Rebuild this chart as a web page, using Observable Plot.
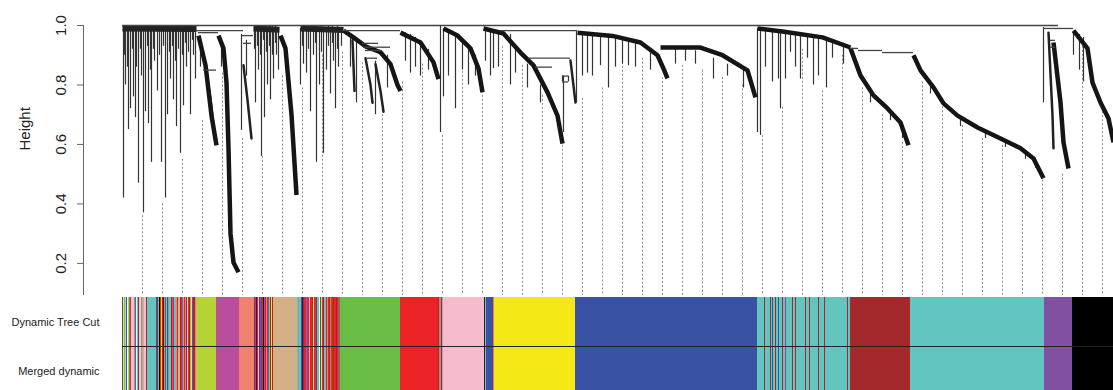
<!DOCTYPE html>
<html><head><meta charset="utf-8">
<script src="https://cdn.jsdelivr.net/npm/d3@7"></script>
<script src="https://cdn.jsdelivr.net/npm/@observablehq/plot@0.6"></script>
<style>
body{margin:0;background:#fff;}
#chart svg{display:block;}
</style></head><body><div id="chart"></div>
<script>
// ---------- DATA (leaf order position, height) ----------
const yTicks = [0.2, 0.4, 0.6, 0.8, 1.0];
const rowLabels = ["Dynamic Tree Cut", "Merged dynamic"];

// horizontal merge links [x1, x2, height]
const mergeLinks = [
  [0,936,1.0],[921,951,0.99],[74,121,0.983],[76,96,0.976],[119,131,0.966],[121,129,0.94],[81,94,0.85],
  [221,278,0.983],[240,256,0.94],[241,268,0.927],[243,260,0.916],[245,255,0.89],
  [378,455,0.983],[406,448,0.89],[413,430,0.86],[440,446,0.83],[440,446,0.81],
  [728,736,0.923],[736,760,0.916],[760,791,0.909],[928,933,0.95],[928,933,0.927]
];

// single branches [x, top height, bottom height]
const branches = [
  [1,1.0,0.42],[2,1.0,0.90],[3,1.0,0.80],[5,1.0,0.86],[6,1.0,0.65],[8,1.0,0.72],[10,1.0,0.92],[11,1.0,0.76],[13,1.0,0.69],[14,0.99,0.86],
  [16,1.0,0.47],[18,1.0,0.92],[19,0.99,0.83],[21,1.0,0.37],[23,1.0,0.71],[25,1.0,0.93],[26,1.0,0.67],[28,1.0,0.85],[29,1.0,0.54],[31,1.0,0.92],
  [32,0.99,0.88],[35,0.99,0.78],[37,1.0,0.90],[39,1.0,0.54],[41,1.0,0.93],[43,1.0,0.42],[45,0.99,0.70],[47,1.0,0.91],[48,0.99,0.82],[50,1.0,0.93],
  [51,1.0,0.75],[53,1.0,0.88],[54,1.0,0.66],[56,1.0,0.92],[58,1.0,0.57],[60,1.0,0.90],[61,0.99,0.73],[63,1.0,0.94],[64,0.99,0.86],[66,1.0,0.91],
  [68,1.0,0.70],[70,1.0,0.95],[71,0.99,0.90],[73,0.99,0.82],
  [78,0.95,0.86],[85,0.83,0.78],[99,0.94,0.86],[119,0.97,0.647],[124,0.95,0.83],
  [132,1.0,0.92],[133,1.0,0.74],[135,1.0,0.93],[136,1.0,0.85],[138,1.0,0.90],[139,1.0,0.56],[141,1.0,0.95],[142,0.99,0.69],[144,1.0,0.91],
  [145,0.99,0.80],[147,1.0,0.93],[148,1.0,0.75],[150,1.0,0.90],[151,0.99,0.82],[153,1.0,0.94],[154,0.99,0.90],[156,0.99,0.85],
  [178,0.99,0.80],[180,1.0,0.93],[181,0.99,0.87],[184,0.99,0.84],[186,1.0,0.92],[188,0.99,0.71],[191,0.99,0.90],[193,1.0,0.94],[194,0.99,0.54],
  [197,0.99,0.80],[199,1.0,0.91],[201,0.99,0.57],[204,0.99,0.85],[206,1.0,0.93],[208,0.99,0.77],[210,1.0,0.94],[211,0.99,0.88],[213,0.99,0.72],
  [215,1.0,0.92],[216,0.99,0.86],[219,0.99,0.93],
  [228,0.96,0.86],[234,0.95,0.74],[253,0.88,0.70],[265,0.90,0.79],
  [283,0.975,0.88],[288,0.97,0.84],[293,0.96,0.86],[298,0.95,0.83],[306,0.92,0.85],
  [318,1.0,0.64],[321,0.99,0.76],[326,0.98,0.83],[333,0.97,0.72],[340,0.95,0.85],[346,0.93,0.80],[353,0.9,0.83],
  [363,0.99,0.88],[368,0.99,0.83],[371,0.985,0.855],[376,0.98,0.86],[388,0.97,0.80],[393,0.93,0.84],[405,0.87,0.79],[418,0.80,0.74],
  [440,0.83,0.81],[446,0.83,0.81],[441,0.83,0.64],
  [454,0.98,0.74],[460,0.976,0.83],[465,0.975,0.84],[470,0.97,0.83],[478,0.97,0.865],[486,0.96,0.79],[493,0.96,0.86],[500,0.955,0.87],
  [506,0.95,0.865],[513,0.945,0.86],[528,0.92,0.85],[553,0.92,0.87],[563,0.92,0.88],[573,0.915,0.87],[591,0.89,0.82],[605,0.87,0.83],[621,0.86,0.79],
  [635,0.99,0.64],[638,0.99,0.63],[643,0.985,0.86],[650,0.98,0.81],[656,0.98,0.82],[658,0.98,0.72],[663,0.975,0.82],[668,0.975,0.91],
  [673,0.97,0.86],[678,0.97,0.82],[685,0.965,0.89],[691,0.96,0.80],[696,0.96,0.83],[704,0.955,0.79],[710,0.95,0.89],[721,0.94,0.87],
  [748,0.78,0.74],[768,0.715,0.68],[780,0.66,0.62],
  [808,0.80,0.77],[838,0.69,0.66],[863,0.645,0.62],[883,0.615,0.59],[903,0.58,0.55],[913,0.545,0.52],
  [921,0.993,0.74],[951,0.98,0.90],[957,0.97,0.85],[961,0.96,0.81]
];

// dense cluster tops [[x, h], ...]
const clusterTops = [
  [[0,0.99],[74,0.988]],
  [[131,0.99],[157,0.986]],
  [[178,0.99],[221,0.985]]
];

// module cascades (lower edge of each module's branch run) [[x, h], ...]
const cascades = [
  [[76,0.966],[83,0.866],[89,0.697],[94,0.597]],
  [[96,0.966],[101,0.923],[104,0.808],[106,0.587],[108,0.30],[111,0.203],[116,0.17]],
  [[158,0.966],[163,0.923],[169,0.70],[174,0.43]],
  [[221,0.983],[231,0.96],[243,0.93],[258,0.91],[268,0.87],[275,0.80],[278,0.78]],
  [[278,0.976],[298,0.943],[311,0.876],[316,0.82]],
  [[321,0.99],[335,0.966],[348,0.923],[356,0.855],[360,0.775]],
  [[361,0.99],[381,0.973],[398,0.909],[411,0.866],[425,0.775],[435,0.697],[440,0.603]],
  [[455,0.976],[490,0.965],[518,0.943],[535,0.90],[541,0.855],[545,0.822]],
  [[538,0.926],[578,0.926],[600,0.90],[625,0.849],[633,0.758]],
  [[635,0.99],[660,0.98],[700,0.96],[728,0.926]],
  [[728,0.923],[738,0.832],[751,0.765],[765,0.721],[778,0.674],[786,0.597]],
  [[791,0.90],[798,0.849],[811,0.792],[821,0.738],[835,0.697],[855,0.657],[878,0.62],[898,0.587],[911,0.553],[921,0.486]],
  [[931,0.943],[938,0.741],[941,0.607],[946,0.519]],
  [[951,0.983],[965,0.923],[970,0.808],[978,0.741],[986,0.687],[991,0.607]]
];
const subCascades = [
  [[83,0.866],[88,0.75],[93,0.607]],
  [[121,0.866],[125,0.75],[129,0.62]],
  [[243,0.89],[248,0.80],[250,0.74]],
  [[253,0.87],[258,0.78],[261,0.71]],
  [[230,0.95],[232,0.78]],
  [[448,0.882],[453,0.741]],
  [[926,0.976],[930,0.697],[931,0.587]]
];

// guide lines [x, top height]
const guides = [
  [20,0.36],[40,0.40],[60,0.55],[80,0.68],[100,0.84],[120,0.62],[140,0.56],[160,0.83],[180,0.79],[200,0.90],
  [220,0.91],[240,0.875],[260,0.70],[280,0.81],[300,0.87],[320,0.63],[340,0.90],[360,0.765],[380,0.93],[400,0.866],
  [420,0.765],[440,0.597],[460,0.755],[480,0.79],[500,0.89],[520,0.89],[540,0.825],[560,0.866],[580,0.85],[600,0.825],
  [620,0.80],[640,0.63],[660,0.725],[680,0.92],[700,0.78],[720,0.90],[740,0.79],[760,0.70],[780,0.607],[800,0.81],
  [820,0.74],[840,0.664],[860,0.62],[880,0.597],[900,0.506],[920,0.48],[940,0.50],[960,0.93],[980,0.71]
];

// module colour runs [start, end, colour]
const dynamicTreeCut = [
  [0,1,"#3a52a3"],[1,2,"#f5e816"],[2,3,"#a0a0a0"],[3,4,"#90ee90"],[4,5,"#3a52a3"],[5,6,"#ffffe0"],[6,7,"#b5d334"],[7,8,"#808080"],[8,9,"#ec2227"],[9,10,"#d3d3d3"],
  [10,12,"#f7bccb"],[12,13,"#999999"],[13,14,"#8250a0"],[14,15,"#e0ffff"],[15,16,"#62c5c0"],[16,17,"#a4292c"],[17,18,"#d3d3d3"],[18,19,"#f7bccb"],[19,20,"#999999"],
  [20,21,"#c0a0a0"],[21,22,"#d4b088"],[22,24,"#f7bccb"],[24,25,"#a4292c"],
  [25,34,"#62c5c0"],
  [34,35,"#3a52a3"],[35,36,"#a4292c"],[36,37,"#62c5c0"],[37,38,"#000000"],[38,39,"#ec2227"],[39,40,"#f5e816"],[40,41,"#a4292c"],[41,42,"#8b0000"],[42,43,"#6abd45"],
  [43,44,"#8250a0"],[44,45,"#62c5c0"],[45,46,"#3a52a3"],[46,47,"#999999"],[47,49,"#62c5c0"],[49,50,"#a4292c"],[50,51,"#b94f9c"],[51,52,"#ec2227"],[52,54,"#62c5c0"],
  [54,55,"#f08070"],[55,56,"#ec2227"],[56,58,"#d4b088"],[58,59,"#a4292c"],[59,60,"#ec2227"],[60,61,"#b94f9c"],[61,62,"#62c5c0"],[62,63,"#ec2227"],[63,64,"#f08070"],
  [64,65,"#a4292c"],[65,66,"#d3d3d3"],[66,67,"#ec2227"],[67,68,"#a4292c"],[68,69,"#62c5c0"],[69,70,"#f5e816"],[70,71,"#ec2227"],[71,72,"#3a52a3"],[72,73,"#a4292c"],
  [73,74,"#f08070"],[74,75,"#d4b088"],
  [75,94,"#b5d334"],
  [94,117,"#b94f9c"],
  [117,132,"#f08070"],
  [132,133,"#a4292c"],[133,134,"#8250a0"],[134,135,"#191970"],[135,136,"#ec2227"],[136,137,"#f7bccb"],[137,138,"#a4292c"],[138,139,"#8250a0"],[139,140,"#3a52a3"],
  [140,141,"#ec2227"],[141,142,"#000000"],[142,143,"#b94f9c"],[143,144,"#a4292c"],[144,145,"#f08070"],[145,146,"#ec2227"],[146,147,"#8250a0"],[147,148,"#62c5c0"],
  [148,149,"#a4292c"],[149,150,"#f5e816"],[150,151,"#a4292c"],
  [151,175,"#d4b088"],
  [175,176,"#62c5c0"],[176,177,"#999999"],[177,179,"#62c5c0"],[179,180,"#3a52a3"],[180,181,"#191970"],[181,182,"#a4292c"],[182,184,"#ec2227"],[184,185,"#b94f9c"],
  [185,186,"#8250a0"],[186,187,"#ec2227"],[187,188,"#f7bccb"],[188,190,"#ec2227"],[190,191,"#a4292c"],[191,192,"#f5e816"],[192,193,"#ec2227"],[193,194,"#8250a0"],
  [194,195,"#a4292c"],[195,197,"#62c5c0"],[197,198,"#e0ffff"],[198,199,"#3a52a3"],[199,200,"#f5e816"],[200,201,"#ec2227"],[201,202,"#a4292c"],[202,204,"#62c5c0"],
  [204,205,"#ec2227"],[205,206,"#f08070"],[206,207,"#ec2227"],[207,208,"#a4292c"],[208,209,"#6abd45"],[209,211,"#ec2227"],[211,212,"#a4292c"],[212,214,"#ec2227"],
  [214,215,"#a4292c"],[215,216,"#ec2227"],[216,218,"#a0626a"],
  [218,278,"#6abd45"],
  [278,316,"#ec2227"],
  [316,317,"#a4292c"],[317,319,"#b08890"],[319,320,"#a4292c"],[320,321,"#c9a0a8"],
  [321,362,"#f7bccb"],
  [362,363,"#222222"],[363,364,"#62c5c0"],[364,371,"#3a52a3"],[371,372,"#f08030"],
  [372,453,"#f5e816"],
  [453,635,"#3a52a3"],
  [635,642,"#62c5c0"],[642,643,"#a4292c"],[643,648,"#62c5c0"],[648,649,"#a4292c"],[649,650,"#62c5c0"],[650,651,"#3a52a3"],[651,653,"#62c5c0"],[653,654,"#a4292c"],
  [654,656,"#62c5c0"],[656,657,"#3a52a3"],[657,660,"#62c5c0"],[660,661,"#a4292c"],[661,663,"#62c5c0"],[663,664,"#8250a0"],[664,670,"#62c5c0"],[670,671,"#a4292c"],
  [671,673,"#62c5c0"],[673,674,"#a4292c"],[674,683,"#62c5c0"],[683,684,"#a4292c"],[684,687,"#62c5c0"],[687,688,"#a4292c"],[688,696,"#62c5c0"],[696,697,"#a4292c"],
  [697,702,"#62c5c0"],[702,703,"#a4292c"],[703,725,"#62c5c0"],[725,726,"#a4292c"],[726,728,"#62c5c0"],
  [728,788,"#a4292c"],
  [788,922,"#62c5c0"],
  [922,950,"#8250a0"],
  [950,991,"#000000"]
];
const mergedDynamic = dynamicTreeCut;

// ---------- DRAW ----------
const font = "'Liberation Sans', Arial, Helvetica, sans-serif";
const xDomain = [-39, 991];
const yDomain = [0.092, 1.0];

const dendro = Plot.plot({
  width: 1113, height: 296,
  marginLeft: 83, marginRight: 0, marginTop: 25, marginBottom: 1,
  style: {fontFamily: font, background: "white", color: "#222"},
  x: {domain: xDomain, axis: null},
  y: {domain: yDomain, axis: null},
  marks: [
    Plot.ruleX(guides, {x: d => d[0], y1: d => d[1], y2: yDomain[0], stroke: "#8a8a8a", strokeWidth: 1, strokeDasharray: "2,2"}),
    Plot.ruleX([xDomain[0]], {y1: yDomain[0], y2: yDomain[1], stroke: "#666", strokeWidth: 1}),
    Plot.axisY({ticks: yTicks, tickSize: 6, tickRotate: -90, tickPadding: 12, tickFormat: d => d.toFixed(1),
      fontSize: 15, stroke: "#666", fill: "#222", label: null}),
    Plot.text(["Height"], {frameAnchor: "left", rotate: -90, dx: -58, dy: -10, fontSize: 15, fill: "#222"}),
    Plot.ruleX(branches, {x: d => d[0], y1: d => d[1], y2: d => d[2], stroke: "#333", strokeWidth: 1.2}),
    ...subCascades.map(c => Plot.line(c, {x: d => d[0], y: d => d[1], stroke: "#222", strokeWidth: 2.5, strokeLinejoin: "round"})),
    ...cascades.map(c => Plot.line(c, {x: d => d[0], y: d => d[1], stroke: "#151515", strokeWidth: 4.5, strokeLinejoin: "round", strokeLinecap: "butt"})),
    ...clusterTops.map(c => Plot.line(c, {x: d => d[0], y: d => d[1], stroke: "#222", strokeWidth: 6, strokeLinecap: "butt"})),
    Plot.ruleY(mergeLinks, {x1: d => d[0], x2: d => d[1], y: d => d[2], stroke: "#444", strokeWidth: 1.3})
  ]
});

const bars = [dynamicTreeCut, mergedDynamic].flatMap((segs, row) =>
  segs.map(s => ({x1: s[0], x2: s[1], fill: s[2], row})));

const colorBars = Plot.plot({
  width: 1113, height: 94,
  marginLeft: 122, marginRight: 0, marginTop: 0, marginBottom: 0,
  style: {fontFamily: font, background: "white", color: "#222"},
  x: {domain: [0, 991], axis: null},
  y: {domain: [0, 2], range: [1, 99], axis: null},
  color: {type: "identity"},
  marks: [
    Plot.rect(bars, {x1: "x1", x2: "x2", y1: "row", y2: d => d.row + 1, fill: "fill", shapeRendering: "crispEdges"}),
    Plot.ruleY([1], {stroke: "#222", strokeWidth: 1.2}),
    Plot.text(rowLabels, {y: (d, i) => i + 0.5, frameAnchor: "left", dx: -23, textAnchor: "end", fontSize: 11, fill: "#222"})
  ]
});

const root = document.getElementById("chart");
root.appendChild(dendro);
root.appendChild(colorBars);
</script></body></html>
